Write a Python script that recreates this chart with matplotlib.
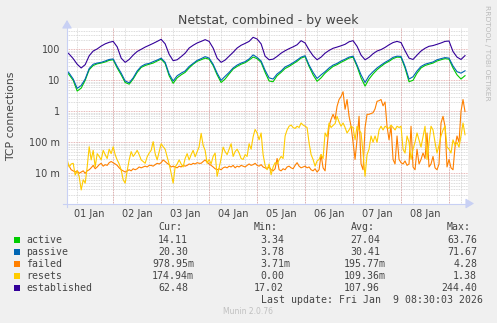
import matplotlib
matplotlib.use("Agg")
import matplotlib.pyplot as plt
from matplotlib.ticker import FixedLocator, FixedFormatter, LogLocator, MultipleLocator, NullFormatter
from matplotlib.patches import Rectangle

# ---------------- data ----------------
hours = list(range(0, 201, 2))   # hours since 01 Jan 00:00, 2-hour samples
hours_fine = list(range(0, 201))  # hourly samples

established = [90, 70, 50, 33, 25, 32, 62, 88, 103, 127, 150, 168,
               180, 120, 52, 38, 47, 65, 85, 100, 118, 135, 155, 180,
               210, 150, 69, 43, 46, 58, 75, 110, 135, 160, 180, 205,
               180, 110, 52, 38, 45, 60, 80, 110, 135, 155, 180, 244,
               215, 150, 60, 46, 48, 59, 75, 90, 105, 120, 140, 190,
               160, 95, 62, 46, 56, 75, 92, 108, 118, 130, 145, 175,
               190, 125, 65, 46, 55, 72, 88, 98, 115, 140, 165, 180,
               165, 90, 52, 47, 65, 88, 108, 125, 132, 145, 160, 180,
               185, 85, 56, 47, 62.48]

active = [22, 15, 10, 4.5, 5.6, 10, 22, 30, 34, 36, 39, 44,
          46, 25, 15, 8.5, 7.5, 11, 18, 26, 30, 33, 36, 42,
          48, 35, 14, 8, 12, 15, 18, 25, 33, 41, 46, 52,
          48, 30, 15, 8.5, 11, 16, 23, 28, 33, 37, 45, 56,
          50, 38, 18, 9.5, 9, 14, 18, 24, 28, 34, 41, 52,
          58, 28, 15, 9.3, 12, 17, 22, 28, 32, 38, 44, 52,
          56, 28, 12, 6.5, 11, 16, 22, 28, 35, 41, 50, 56,
          55, 25, 9, 10, 17, 25, 30, 33, 36, 42, 46, 50,
          48, 25, 15, 11, 14.11]

passive = [23, 17, 11, 5.5, 6.8, 11, 24, 33, 36, 38, 42, 47,
           49, 28, 17, 9.5, 8.3, 12, 20, 28, 33, 35, 40, 45,
           52, 38, 16, 9.5, 14, 17, 20, 28, 35, 44, 50, 58,
           52, 33, 17, 10, 13.5, 18, 25, 31, 36, 40, 49, 66,
           55, 42, 21, 12, 11, 16, 20, 27, 31, 37, 45, 56,
           62, 31, 18, 11.5, 15, 19, 25, 31, 35, 42, 48, 56,
           60, 31, 15, 8.5, 14, 19, 25, 31, 38, 45, 55, 60,
           59, 28, 11, 13, 20, 28, 33, 36, 39, 46, 50, 54,
           52, 29, 19, 17, 20.30]

failed = [
    0.028, 0.021, 0.017, 0.013, 0.012, 0.011, 0.012, 0.010, 0.011, 0.012, 0.010, 0.012,
    0.013, 0.015, 0.018, 0.014, 0.016, 0.019, 0.021, 0.017, 0.019, 0.018, 0.022, 0.024,
    0.022, 0.020, 0.018, 0.015, 0.013, 0.012, 0.011, 0.012, 0.013, 0.012, 0.014, 0.013,
    0.014, 0.016, 0.015, 0.016, 0.017, 0.016, 0.018, 0.018, 0.017, 0.019, 0.021, 0.020,
    0.022, 0.027, 0.024, 0.021, 0.019, 0.016, 0.017, 0.016, 0.015, 0.017, 0.016, 0.018,
    0.017, 0.018, 0.020, 0.019, 0.021, 0.020, 0.022, 0.021, 0.021, 0.024, 0.027, 0.023,
    0.020, 0.018, 0.016, 0.014, 0.013, 0.014, 0.013, 0.015, 0.016, 0.015, 0.017, 0.016,
    0.018, 0.015, 0.017, 0.016, 0.018, 0.017, 0.016, 0.018, 0.020, 0.018, 0.019, 0.021,
    0.018, 0.017, 0.019, 0.016, 0.015, 0.014, 0.016, 0.013, 0.012, 0.014, 0.030, 0.013,
    0.012, 0.014, 0.013, 0.016, 0.017, 0.015, 0.014, 0.018, 0.022, 0.017, 0.015, 0.016,
    0.017, 0.015, 0.016, 0.013, 0.012, 0.014, 0.011, 0.013, 0.04, 0.015, 0.012, 0.07,
    0.33, 0.55, 0.8, 0.55, 1.45, 2.4, 3.0, 4.28, 1.16, 2.4, 0.69, 0.33,
    0.1, 0.028, 0.125, 0.69, 0.02, 0.013, 0.3, 0.8, 0.8, 0.85, 0.9, 1.2,
    2.1, 2.2, 2.4, 1.5, 2.0, 0.33, 0.12, 0.33, 0.028, 0.02, 0.16, 0.028,
    0.022, 0.02, 0.025, 0.018, 0.02, 0.33, 0.016, 0.013, 0.06, 0.02, 0.028, 0.045,
    0.03, 0.2, 0.016, 0.02, 0.035, 0.015, 0.013, 0.02, 0.42, 0.69, 0.33, 0.016,
    0.028, 0.015, 0.013, 0.07, 0.16, 0.1, 1.0, 2.4, 0.979]

resets = [
    0.03, 0.027, 0.016, 0.02, 0.021, 0.0088, 0.012, 0.0078, 0.0029, 0.0062, 0.0048, 0.016,
    0.072, 0.027, 0.055, 0.016, 0.043, 0.035, 0.027, 0.055, 0.04, 0.03, 0.06, 0.043,
    0.072, 0.04, 0.027, 0.02, 0.0128, 0.0062, 0.0048, 0.012, 0.027, 0.05, 0.035, 0.043,
    0.055, 0.04, 0.027, 0.024, 0.021, 0.034, 0.045, 0.055, 0.105, 0.043, 0.027, 0.05,
    0.09, 0.072, 0.06, 0.034, 0.02, 0.0101, 0.0048, 0.016, 0.02, 0.027, 0.02, 0.016,
    0.03, 0.043, 0.027, 0.04, 0.055, 0.034, 0.05, 0.072, 0.195, 0.08, 0.055, 0.021,
    0.028, 0.02, 0.035, 0.045, 0.008, 0.015, 0.03, 0.07, 0.05, 0.04, 0.06, 0.09,
    0.035, 0.05, 0.06, 0.045, 0.03, 0.028, 0.04, 0.035, 0.09, 0.06, 0.15, 0.26,
    0.2, 0.12, 0.2, 0.04, 0.018, 0.013, 0.02, 0.009, 0.016, 0.022, 0.02, 0.027,
    0.035, 0.03, 0.16, 0.25, 0.33, 0.36, 0.3, 0.28, 0.33, 0.3, 0.42, 0.36,
    0.33, 0.3, 0.095, 0.04, 0.028, 0.017, 0.025, 0.028, 0.04, 0.03, 0.2, 0.15,
    0.42, 0.3, 0.35, 0.4, 0.69, 0.45, 0.33, 0.42, 0.3, 0.2, 0.25, 0.33,
    0.3, 0.12, 0.33, 0.25, 0.2, 0.045, 0.008, 0.04, 0.06, 0.16, 0.1, 0.16,
    0.1, 0.25, 0.33, 0.25, 0.33, 0.3, 0.28, 0.36, 0.3, 0.25, 0.33, 0.3,
    0.33, 0.06, 0.045, 0.16, 0.1, 0.028, 0.06, 0.1, 0.2, 0.12, 0.07, 0.15,
    0.33, 0.028, 0.1, 0.33, 0.25, 0.1, 0.045, 0.08, 0.16, 0.25, 0.33, 0.07,
    0.06, 0.045, 0.12, 0.08, 0.1, 0.07, 0.16, 0.42, 0.175]

day_labels = ["01 Jan", "02 Jan", "03 Jan", "04 Jan", "05 Jan", "06 Jan", "07 Jan", "08 Jan"]
day_label_hours = [12, 36, 60, 84, 108, 132, 156, 180]
midnight_hours = [24, 48, 72, 96, 120, 144, 168, 192]
ytick_values = [0.01, 0.1, 1, 10, 100]
ytick_labels = ["10 m", "100 m", "1", "10", "100"]

names = ["active", "passive", "failed", "resets", "established"]
colors = ["#00CC00", "#0066B3", "#FF8000", "#FFCC00", "#330099"]
series_x = [hours, hours, hours_fine, hours_fine, hours]
series = [active, passive, failed, resets, established]
cur = ["14.11", "20.30", "978.95m", "174.94m", "62.48"]
mins = ["3.34", "3.78", "3.71m", "0.00", "17.02"]
avgs = ["27.04", "30.41", "195.77m", "109.36m", "107.96"]
maxs = ["63.76", "71.67", "4.28", "1.38", "244.40"]

# ---------------- figure ----------------
W, H = 497, 323
fig = plt.figure(figsize=(W / 100, H / 100), dpi=100, facecolor="#F0F0F0")

def fx(x):
    return x / W

def fy(y):
    return 1 - y / H

ax_l, ax_r, ax_t, ax_b = 67, 468, 28, 203.5
ax = fig.add_axes([fx(ax_l), fy(ax_b), (ax_r - ax_l) / W, (ax_b - ax_t) / H])
ax.set_facecolor("white")
ax.set_yscale("log")
ax.set_xlim(0.9, 201.5)
ax.set_ylim(1.06e-3, 487)

ax.yaxis.set_major_locator(FixedLocator(ytick_values))
ax.yaxis.set_major_formatter(FixedFormatter(ytick_labels))
ax.yaxis.set_minor_locator(LogLocator(base=10, subs=[2, 3, 4, 5, 6, 7, 8, 9], numticks=20))
ax.yaxis.set_minor_formatter(NullFormatter())
ax.xaxis.set_major_locator(FixedLocator(day_label_hours))
ax.xaxis.set_major_formatter(FixedFormatter(day_labels))
ax.xaxis.set_minor_locator(MultipleLocator(6))

dash = (0, (1, 1))
ax.grid(True, which="minor", axis="both", color="#D0D0D0", lw=0.6, linestyle=dash)
ax.grid(True, which="major", axis="y", color="#E0A0A0", lw=0.6, linestyle=dash)
ax.grid(False, which="major", axis="x")
for h in midnight_hours:
    ax.axvline(h, color="#E0A0A0", lw=0.6, linestyle=dash, zorder=0.6)
ax.set_axisbelow(True)

for s in ax.spines.values():
    s.set_visible(False)
ax.tick_params(axis="both", which="both", length=0)
ax.tick_params(axis="y", labelsize=7, colors="#444444", pad=5)
ax.tick_params(axis="x", labelsize=7, colors="#444444", pad=4)

for xs, vals, c in zip(series_x, series, colors):
    ax.plot(xs, vals, color=c, lw=0.8, zorder=3)

# axes arrows
axis_col = "#C8D0F4"
fig.add_artist(plt.Line2D([fx(63), fx(470)], [fy(ax_b), fy(ax_b)], color=axis_col, lw=0.8))
fig.add_artist(plt.Line2D([fx(ax_l), fx(ax_l)], [fy(207), fy(24)], color=axis_col, lw=0.8))
ax.annotate("", xy=(fx(474), fy(ax_b)), xytext=(fx(468), fy(ax_b)), xycoords="figure fraction",
            arrowprops=dict(arrowstyle="-|>,head_length=0.5,head_width=0.3", color=axis_col, lw=0.8,
                            shrinkA=0, shrinkB=0), annotation_clip=False)
ax.annotate("", xy=(fx(ax_l), fy(20)), xytext=(fx(ax_l), fy(27)), xycoords="figure fraction",
            arrowprops=dict(arrowstyle="-|>,head_length=0.5,head_width=0.3", color=axis_col, lw=0.8,
                            shrinkA=0, shrinkB=0), annotation_clip=False)

# texts
fig.text(fx(268), fy(24), "Netstat, combined - by week", ha="center", va="baseline",
         fontsize=9, color="#444444")
fig.text(fx(11), fy(116), "TCP connections", ha="center", va="center", rotation=90,
         fontsize=7.8, color="#444444")
fig.text(fx(487.5), fy(53), "RRDTOOL / TOBI OETIKER", ha="center", va="center", rotation=270,
         fontsize=5.4, color="#BBBBBB")

mono = "DejaVu Sans Mono"
fs = 7.1
tc = "#444444"
cw = 5.93
hdr_y = 227.5
for xh, t in zip([158.3, 253.3, 350.7, 446.7], ["Cur:", "Min:", "Avg:", "Max:"]):
    fig.text(fx(xh), fy(hdr_y), t, family=mono, fontsize=fs, color=tc, ha="left", va="center")

col_edges = [194, 290, 386, 483]
for i, (n, c) in enumerate(zip(names, colors)):
    y = 239.7 + 12 * i
    fig.add_artist(Rectangle((fx(14), fy(y + 3)), 6 / W, 6 / H, transform=fig.transFigure,
                             facecolor=c, edgecolor="none"))
    fig.text(fx(26), fy(y), n, family=mono, fontsize=fs, color=tc, ha="left", va="center")
    for edge, v in zip(col_edges, [cur[i], mins[i], avgs[i], maxs[i]]):
        xr = edge if v.endswith("m") else edge - cw
        fig.text(fx(xr), fy(y), v, family=mono, fontsize=fs, color=tc, ha="right", va="center")

fig.text(fx(483), fy(299.7), "Last update: Fri Jan  9 08:30:03 2026", family=mono, fontsize=fs,
         color=tc, ha="right", va="center")
fig.text(fx(248), fy(312), "Munin 2.0.76", ha="center", va="center", fontsize=5.5, color="#C0C0C0")

fig.savefig("out.png", dpi=100, facecolor=fig.get_facecolor())
